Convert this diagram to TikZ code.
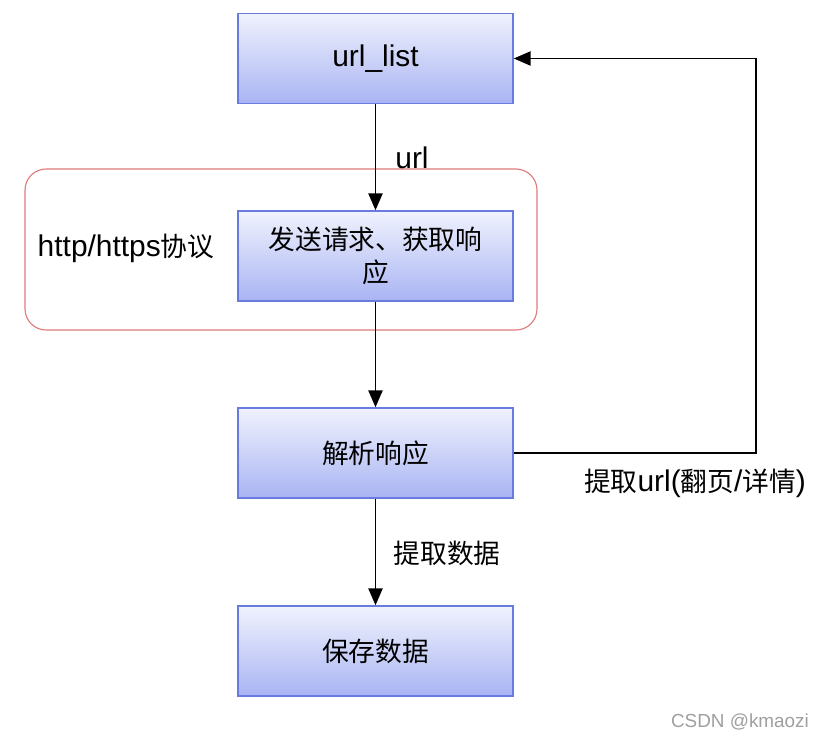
\documentclass[tikz,border=0pt]{standalone}
\usepackage{fontspec}
\setmainfont{Liberation Sans}[Scale=1.12]
\newfontfamily\cjk{Noto Sans CJK SC}
\usetikzlibrary{arrows.meta}
\definecolor{boxtop}{HTML}{F0F2FD}
\definecolor{boxbot}{HTML}{A9B4F3}
\definecolor{boxline}{HTML}{6A7BE0}
\definecolor{groupline}{HTML}{E07A7A}
\tikzset{
  stepbox/.style={draw=boxline,line width=1pt,top color=boxtop,bottom color=boxbot,
    minimum width=6.875cm,minimum height=2.25cm,align=center,inner sep=0pt},
  flow/.style={line width=1.4pt,-{Triangle[width=10pt,length=12pt]}},
  lbl/.style={inner sep=0pt}
}
\begin{document}
\begin{tikzpicture}[x=0.025cm,y=-0.025cm,font=\fontsize{19}{23}\selectfont]
	\useasboundingbox (0,0) rectangle (823,741);
	\draw[groupline,line width=0.8pt,rounded corners=15] (25,169) rectangle (537,330);
	\node[lbl] (proto) at (126,248) {http/https{\cjk 协议}};
	\node[stepbox] (list) at (375.5,58.5) {url\_list};
	\node[stepbox] (send) at (375.5,256) {\cjk 发送请求、获取响\\\cjk 应};
	\node[stepbox] (parse) at (375.5,453) {\cjk 解析响应};
	\node[stepbox] (save) at (375.5,651) {\cjk 保存数据};
	\coordinate (turn) at (756,453);
	\draw[flow] (list) -- (send);
	\draw[flow] (send) -- (parse);
	\draw[flow] (parse) -- (save);
	\draw[flow] (parse.east) -- (turn) |- (list.east);
	\node[lbl] (urltxt) at (412,158) {url};
	\node[lbl] (datatxt) at (447,553) {\cjk 提取数据};
	\node[lbl] (nexttxt) at (695,483) {{\cjk 提取}url({\cjk 翻页}/{\cjk 详情})};
	\node[lbl,text=gray!75,font=\fontsize{12}{15}\selectfont] (mark) at (740,722) {CSDN @kmaozi};
\end{tikzpicture}
\end{document}
